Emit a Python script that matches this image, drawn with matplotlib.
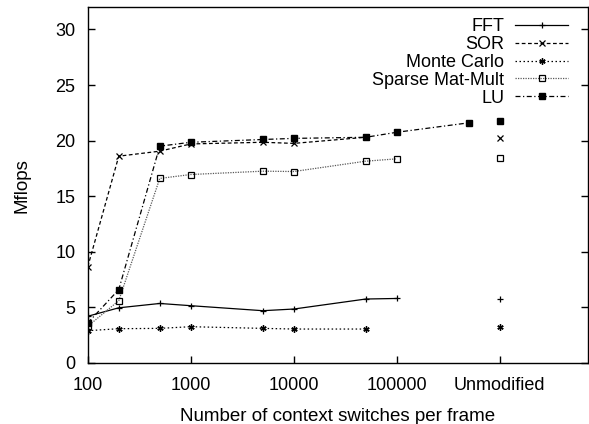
import matplotlib
matplotlib.use("Agg")
import matplotlib.pyplot as plt

plt.rcParams['font.family'] = ['Liberation Sans', 'DejaVu Sans']

switches = [100, 200, 500, 1000, 5000, 10000, 50000, 100000, 500000]
unmod_x = 1e6
tick_pos = [100, 1000, 10000, 100000, 1e6]
tick_labels = ["100", "1000", "10000", "100000", "Unmodified"]

fft = [4.2, 4.96, 5.35, 5.15, 4.7, 4.85, 5.75, 5.8]
fft_unmod = 5.75
sor = [8.65, 18.6, 19.05, 19.7, 19.85, 19.75, 20.3]
sor_unmod = 20.2
mc = [2.9, 3.08, 3.11, 3.26, 3.11, 3.05, 3.05]
mc_unmod = 3.26
sparse = [3.3, 5.6, 16.6, 16.95, 17.25, 17.22, 18.15, 18.36]
sparse_unmod = 18.4
lu = [3.6, 6.6, 19.5, 19.85, 20.1, 20.2, 20.3, 20.75, 21.6]
lu_unmod = 21.8

fig = plt.figure(figsize=(5.89, 4.24), dpi=100)
ax = fig.add_axes([0.149, 0.144, 0.849, 0.839])

series = [
    ("FFT", fft, fft_unmod, dict(color='black', ls='-', marker='+', ms=5, mew=0.9)),
    ("SOR", sor, sor_unmod, dict(color='black', ls=(0, (3, 2)), marker='x', ms=4, mew=0.9)),
    ("Monte Carlo", mc, mc_unmod, dict(color='black', ls=(0, (1.2, 2)), marker=(6, 2, 0), ms=4.5, mew=1.0)),
    ("Sparse Mat-Mult", sparse, sparse_unmod, dict(color='0.35', ls=(0, (1, 1)), marker='s', ms=4, mfc='none', mec='black', mew=0.9)),
    ("LU", lu, lu_unmod, dict(color='black', ls=(0, (4, 2, 1, 2)), marker='s', ms=4.8, mfc='black', mec='black')),
]

for name, vals, uv, st in series:
    ax.plot(switches[:len(vals)], vals, lw=0.9, label=name, **st)
    st2 = dict(st)
    st2['ls'] = 'none'
    ax.plot([unmod_x], [uv], **st2)

ax.set_xscale('log')
ax.set_xlim(100, 7.15e6)
ax.set_ylim(0, 32)
ax.set_xticks(tick_pos)
ax.set_xticklabels(tick_labels)
ax.minorticks_off()
ax.set_yticks([0, 5, 10, 15, 20, 25, 30])
ax.tick_params(axis='both', direction='in', length=5, labelsize=13, width=1)
ax.tick_params(axis='y', right=True, pad=9)
ax.tick_params(axis='x', pad=10)
for s in ax.spines.values():
    s.set_linewidth(1)

ax.set_xlabel("Number of context switches per frame", fontsize=13.5, labelpad=10)
ax.set_ylabel("Mflops", fontsize=13.5, labelpad=18)

ax.legend(loc='upper right', frameon=False, markerfirst=False, fontsize=13,
          handlelength=2.9, labelspacing=0.05, borderaxespad=0.3,
          bbox_to_anchor=(0.985, 1.005), handletextpad=0.6)

fig.savefig("out.png", dpi=100)
